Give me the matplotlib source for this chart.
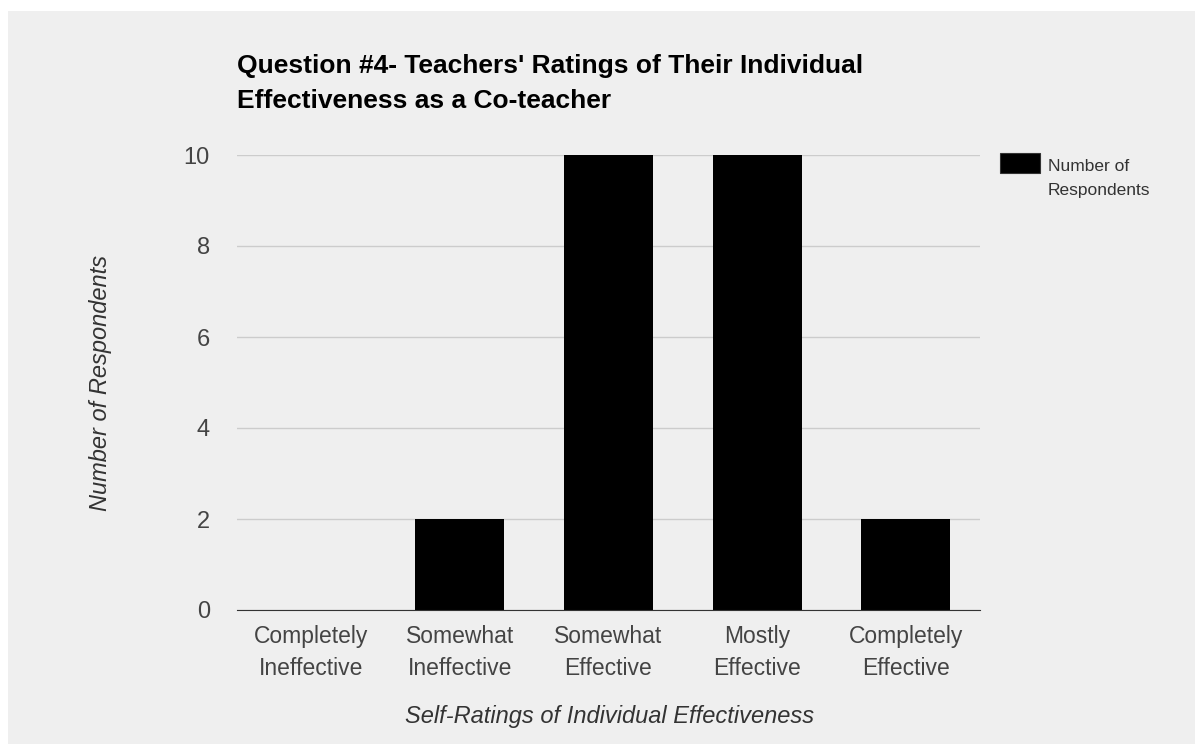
import matplotlib
matplotlib.use("Agg")
import matplotlib.pyplot as plt
from matplotlib.patches import Rectangle

categories = ["Completely\nIneffective", "Somewhat\nIneffective", "Somewhat\nEffective",
              "Mostly\nEffective", "Completely\nEffective"]
values = [0, 2, 10, 10, 2]
series_name = "Number of\nRespondents"
yticks = [0, 2, 4, 6, 8, 10]
title_lines = ["Question #4- Teachers' Ratings of Their Individual",
               "Effectiveness as a Co-teacher"]

plt.rcParams['font.family'] = ['Liberation Sans', 'DejaVu Sans']

W, H = 1195, 744
fig = plt.figure(figsize=(W / 100, H / 100), dpi=100)
fig.patch.set_facecolor("white")
bg = Rectangle((8 / W, 0), 1 - 8 / W, 1 - 11 / H, transform=fig.transFigure,
               facecolor="#efefef", edgecolor="none", zorder=-10)
fig.patches.append(bg)

ax = fig.add_axes([237 / W, 1 - 610 / H, (980 - 237) / W, (610 - 155) / H])
ax.set_facecolor("none")
x = list(range(len(categories)))
ax.bar(x, values, width=0.6, color="black", label=series_name, zorder=3)
ax.set_xlim(-0.5, len(categories) - 0.5)
ax.set_ylim(0, 10)
ax.set_yticks(yticks)
ax.set_xticks(x)
ax.set_xticklabels(categories, fontsize=16.5, color="#444444", linespacing=1.5, va="top")
ax.tick_params(axis="y", labelsize=17, labelcolor="#444444", length=0, pad=19.5)
ax.tick_params(axis="x", length=0, pad=11)
ax.grid(axis="y", color="#cccccc", linewidth=1, zorder=0)
for s in ["top", "right", "left"]:
    ax.spines[s].set_visible(False)
ax.spines["bottom"].set_color("#333333")
ax.spines["bottom"].set_zorder(4)

fig.text(237 / W, 1 - 73 / H, title_lines[0], fontsize=19, fontweight="bold",
         color="black", va="baseline", ha="left")
fig.text(237 / W, 1 - 108 / H, title_lines[1], fontsize=19, fontweight="bold",
         color="black", va="baseline", ha="left")
fig.text(100 / W, 1 - 383 / H, "Number of Respondents", rotation=90, fontsize=17,
         style="italic", color="#333333", ha="center", va="center")
fig.text(610 / W, 1 - 717 / H, "Self-Ratings of Individual Effectiveness", fontsize=17,
         style="italic", color="#333333", ha="center", va="center")

# legend (drawn manually to keep swatch aligned with first text line)
fig.patches.append(Rectangle((1000 / W, 1 - 173 / H), 40 / W, 20 / H, transform=fig.transFigure,
                             facecolor="black", edgecolor="#333333", linewidth=0.8))
fig.text(1048 / W, 1 - 195 / H, series_name, fontsize=12.5, color="#333333",
         ha="left", va="baseline", linespacing=1.75)

fig.savefig("out.png", dpi=100, facecolor=fig.get_facecolor())
